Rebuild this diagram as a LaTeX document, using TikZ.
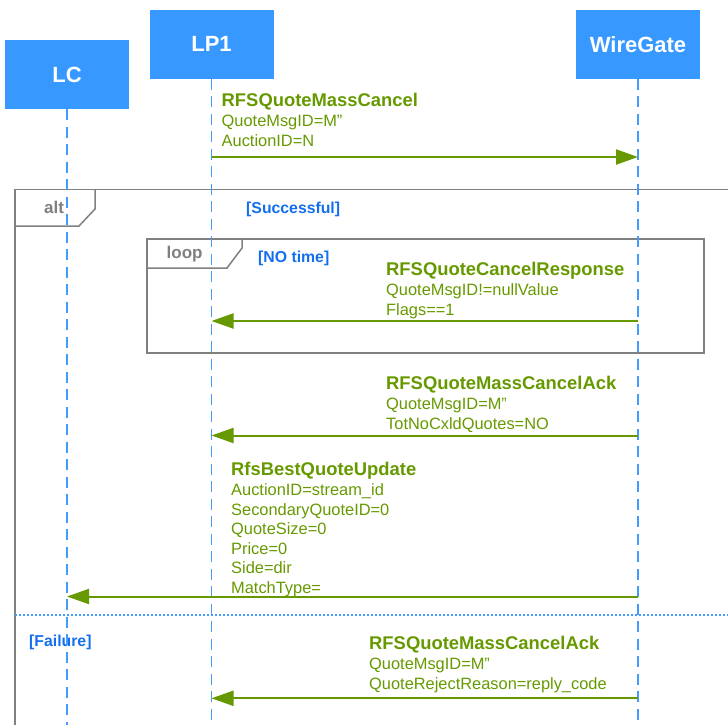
\documentclass[tikz,border=0pt]{standalone}
\usepackage{fontspec}
\setmainfont{Liberation Sans}
\usetikzlibrary{arrows.meta}
\definecolor{actorblue}{RGB}{55,153,255}
\definecolor{lifeblue}{RGB}{66,156,255}
\definecolor{msggreen}{RGB}{102,153,0}
\definecolor{guardblue}{RGB}{20,110,240}
\definecolor{framegray}{RGB}{128,128,128}

\begin{document}
\begin{tikzpicture}[x=1pt,y=-1pt,
  actor/.style={fill=actorblue, draw=none, text=white,
    font=\fontsize{22}{24}\selectfont\bfseries,
    minimum width=124pt, minimum height=69pt, inner sep=0pt, anchor=north},
  lifeline/.style={draw=lifeblue, line width=1.5pt, dash pattern=on 11pt off 6.5pt},
  msg/.style={draw=msggreen, line width=2pt, -{Triangle[length=22pt,width=15pt]}},
  msgtitle/.style={text=msggreen, font=\fontsize{18.4}{20}\selectfont\bfseries,
    anchor=base west, inner sep=0pt},
  msgline/.style={text=msggreen, font=\fontsize{16.4}{20}\selectfont,
    anchor=base west, inner sep=0pt},
  frame/.style={draw=framegray, line width=1.5pt},
  framelabel/.style={text=framegray, font=\fontsize{17}{20}\selectfont\bfseries,
    anchor=base west, inner sep=0pt},
  guard/.style={text=guardblue, font=\fontsize{15.8}{18}\selectfont\bfseries,
    anchor=base west, inner sep=0pt},
  separator/.style={draw=lifeblue, line width=1.5pt, dash pattern=on 2pt off 2pt},
]
\useasboundingbox (0,0) rectangle (728,725);
\clip (0,0) rectangle (728,725);

% combined fragments
\draw[frame] (15,189.5) rectangle (760,760);
\draw[frame] (95,189.5) -- (95,209) -- (79,226) -- (15,226);
\node[framelabel] (altlbl) at (44,213) {alt};
\node[guard] (g1) at (246,213.5) {[Successful]};

\draw[frame] (147,239) rectangle (704,353);
\draw[frame] (242,239) -- (242,248) -- (227,268) -- (147,268);
\node[framelabel] (looplbl) at (166.5,258) {loop};
\node[guard] (g2) at (258,262.3) {[NO time]};

\draw[separator] (15,615) -- (728,615);
\node[guard] (g3) at (29,646) {[Failure]};

% participants
\node[actor] (lc) at (67,40) {LC};
\node[actor] (lp1) at (211.5,9.5) {LP1};
\node[actor] (wg) at (638,9.5) {WireGate};

\coordinate (lcend) at (67,725);
\coordinate (lp1end) at (211.5,725);
\coordinate (wgend) at (638,725);
\draw[lifeline] (lc.south) -- (lcend);
\draw[lifeline] (lp1.south) -- (lp1end);
\draw[lifeline] (wg.south) -- (wgend);

% message 1
\node[msgtitle] (m1t) at (221.5,106) {RFSQuoteMassCancel};
\node[msgline] (m1a) at (221.5,126) {QuoteMsgID=M”};
\node[msgline] (m1b) at (221.5,146) {AuctionID=N};
\draw[msg] (lp1 |- 0,157) -- (wg |- 0,157);

% message 2
\node[msgtitle] (m2t) at (386,275) {RFSQuoteCancelResponse};
\node[msgline] (m2a) at (386,295) {QuoteMsgID!=nullValue};
\node[msgline] (m2b) at (386,315) {Flags==1};
\draw[msg] (wg |- 0,321) -- (lp1 |- 0,321);

% message 3
\node[msgtitle] (m3t) at (386,389.5) {RFSQuoteMassCancelAck};
\node[msgline] (m3a) at (386,409.5) {QuoteMsgID=M”};
\node[msgline] (m3b) at (386,429) {TotNoCxldQuotes=NO};
\draw[msg] (wg |- 0,435.5) -- (lp1 |- 0,435.5);

% message 4
\node[msgtitle] (m4t) at (231,475.7) {RfsBestQuoteUpdate};
\node[msgline] (m4a) at (231,495.5) {AuctionID=stream\_id};
\node[msgline] (m4b) at (231,515) {SecondaryQuoteID=0};
\node[msgline] (m4c) at (231,534.5) {QuoteSize=0};
\node[msgline] (m4d) at (231,554) {Price=0};
\node[msgline] (m4e) at (231,573.5) {Side=dir};
\node[msgline] (m4f) at (231,593) {MatchType=};
\draw[msg] (wg |- 0,596.5) -- (lc |- 0,596.5);

% message 5
\node[msgtitle] (m5t) at (369,649.3) {RFSQuoteMassCancelAck};
\node[msgline] (m5a) at (369,669.5) {QuoteMsgID=M”};
\node[msgline] (m5b) at (369,689.3) {QuoteRejectReason=reply\_code};
\draw[msg] (wg |- 0,698.3) -- (lp1 |- 0,698.3);
\end{tikzpicture}
\end{document}
